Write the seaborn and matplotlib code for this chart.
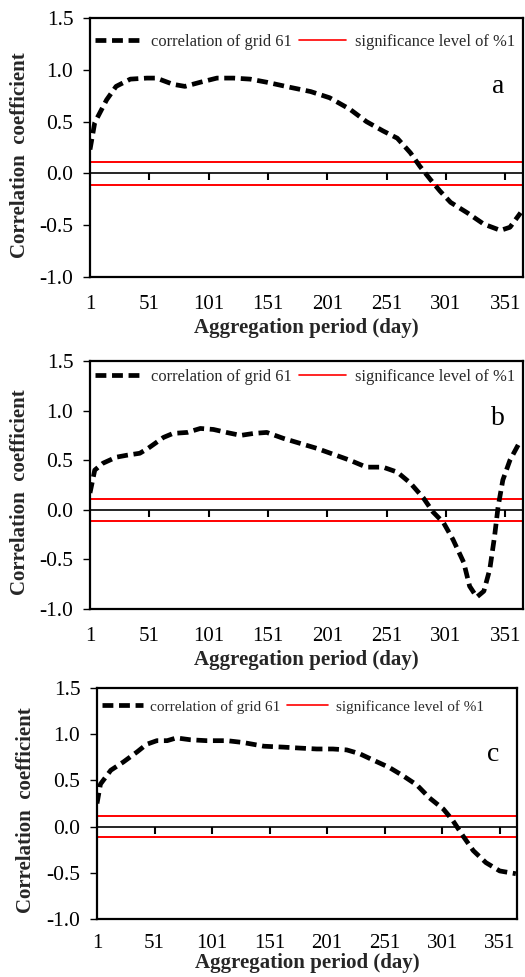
import numpy as np
import pandas as pd
import matplotlib
matplotlib.use("Agg")
import matplotlib.pyplot as plt
import seaborn as sns
from matplotlib.lines import Line2D

# ---------------- data ----------------
days_a = [1, 5, 15, 23, 35, 49, 57, 71, 81, 94, 108, 122, 136, 150, 170, 187, 203,
          220, 234, 248, 260, 271, 279, 288, 296, 305, 319, 333, 347, 355, 364]
corr_a = [0.23, 0.49, 0.71, 0.84, 0.91, 0.92, 0.92, 0.86, 0.84, 0.88, 0.92, 0.92, 0.91,
          0.88, 0.83, 0.79, 0.73, 0.62, 0.50, 0.41, 0.34, 0.20, 0.07, -0.06, -0.17,
          -0.28, -0.38, -0.49, -0.55, -0.52, -0.38]

days_b = [1, 5, 12, 23, 32, 43, 50, 63, 71, 83, 94, 105, 116, 128, 139, 150, 164, 178,
          192, 206, 220, 234, 248, 260, 271, 282, 290, 299, 307, 316, 321, 327, 333,
          338, 342, 345, 349, 355, 364]
corr_b = [0.17, 0.40, 0.47, 0.53, 0.55, 0.57, 0.62, 0.73, 0.77, 0.78, 0.82, 0.81, 0.78,
          0.75, 0.77, 0.78, 0.72, 0.67, 0.62, 0.56, 0.50, 0.43, 0.43, 0.38, 0.27, 0.12,
          -0.02, -0.13, -0.30, -0.53, -0.77, -0.88, -0.82, -0.60, -0.27, 0.03, 0.30,
          0.50, 0.70]

days_c = [1, 4, 13, 24, 36, 44, 53, 62, 70, 82, 96, 114, 128, 146, 163, 177, 192, 206,
          218, 229, 241, 255, 267, 279, 290, 302, 310, 319, 328, 339, 351, 365]
corr_c = [0.25, 0.46, 0.61, 0.70, 0.81, 0.89, 0.93, 0.93, 0.96, 0.94, 0.93, 0.93, 0.91,
          0.87, 0.86, 0.85, 0.84, 0.84, 0.83, 0.79, 0.72, 0.64, 0.55, 0.45, 0.31, 0.19,
          0.07, -0.10, -0.26, -0.39, -0.48, -0.51]

panel_labels = ["a", "b", "c"]
sig_level = 0.11
x_ticks = [1, 51, 101, 151, 201, 251, 301, 351]
y_ticks = [-1.0, -0.5, 0.0, 0.5, 1.0, 1.5]
series_name = "correlation of grid 61"
sig_name = "significance level of %1"
x_title = "Aggregation period (day)"
y_title = "Correlation  coefficient"

# ---------------- style ----------------
sns.set_theme(style="white")
plt.rcParams["font.family"] = ["Liberation Serif", "DejaVu Serif"]

W, H = 525, 977
fig = plt.figure(figsize=(W / 100, H / 100), dpi=100)

# axes boxes in pixels: left, top, right, bottom
boxes = [(90, 18, 523, 277), (90, 361, 523, 609), (97, 688, 517, 919)]
datasets = [(days_a, corr_a), (days_b, corr_b), (days_c, corr_c)]
label_pos = [(0.942, 0.734), (0.942, 0.77), (0.943, 0.71)]
legend_y = [0.907, 0.935, 0.918]
legend_fs = [11.9, 11.9, 11.0]
legend_hl = [2.9, 2.9, 2.7]
ylab_x = [-0.139, -0.139, -0.145]
xtick_pad = [13, 13, 11]
xlab_pad = [3, 3, 0]

for (l, t, r, b), (dx, dy), lab, lp, ly, lfs, lhl, yx, xtp, xlp in zip(
        boxes, datasets, panel_labels, label_pos, legend_y, legend_fs, legend_hl,
        ylab_x, xtick_pad, xlab_pad):
    ax = fig.add_axes([l / W, 1 - b / H, (r - l) / W, (b - t) / H])
    df = pd.DataFrame({"day": dx, "corr": dy})
    sns.lineplot(data=df, x="day", y="corr", ax=ax, color="black", lw=3.4)
    ln = ax.lines[-1]
    ln.set_dashes([2.3, 1.2])

    ax.axhline(sig_level, color="#ff0000", lw=1.4, zorder=1)
    ax.axhline(-sig_level, color="#ff0000", lw=1.4, zorder=1)

    ax.set_xlim(1, 366)
    ax.set_ylim(-1.0, 1.5)
    ax.set_xticks(x_ticks)
    ax.set_xticklabels([str(v) for v in x_ticks])
    ax.set_yticks(y_ticks)
    ax.set_yticklabels([f"{v:.1f}" for v in y_ticks])
    ax.tick_params(axis="x", length=0, pad=xtp, labelsize=15, colors="black")
    ax.tick_params(axis="y", direction="out", length=5, width=1.0, pad=7,
                   labelsize=15.5, colors="black", left=True)
    for s in ax.spines.values():
        s.set_color("black")
        s.set_linewidth(1.6)

    # zero axis with downward ticks
    sec = ax.secondary_xaxis(0.4)
    sec.set_xticks(x_ticks[1:])
    sec.tick_params(axis="x", direction="out", length=5, width=1.5,
                    labelbottom=False, labeltop=False, color="black")
    for s in sec.spines.values():
        s.set_color("black")
        s.set_linewidth(1.2)

    ax.set_xlabel(x_title, fontsize=15, fontweight="bold", labelpad=xlp)
    ax.set_ylabel(y_title, fontsize=15, fontweight="bold")
    ax.yaxis.set_label_coords(yx, 0.47)

    ax.text(lp[0], lp[1], lab, transform=ax.transAxes, fontsize=20,
            ha="center", va="center", color="black")

    handles = [Line2D([], [], color="black", lw=3.4, dashes=[2.3, 1.2]),
               Line2D([], [], color="#ff0000", lw=1.2)]
    leg = ax.legend(handles, [series_name, sig_name], loc="center left",
                    bbox_to_anchor=(0.0, ly), ncol=2, frameon=False,
                    fontsize=lfs, handlelength=lhl, handletextpad=0.5,
                    columnspacing=0.4, borderaxespad=0.0, borderpad=0.3)
    for txt in leg.get_texts():
        txt.set_color("#2a2a2a")

fig.savefig("out.png", dpi=100)
